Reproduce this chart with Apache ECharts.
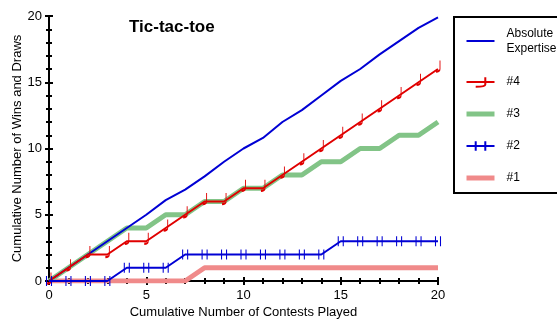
<!DOCTYPE html>
<html><head><meta charset="utf-8">
<script src="https://cdn.jsdelivr.net/npm/echarts@6/dist/echarts.min.js"></script>
<style>html,body{margin:0;padding:0;background:#fff}#c{width:557px;height:320px}</style>
</head><body><div id="c"></div>
<script>
const contests = [0,1,2,3,4,5,6,7,8,9,10,11,12,13,14,15,16,17,18,19,20];
const absoluteExpertise = [0,1,2,3,4,5,6.1,6.9,7.9,9,10,10.8,12,12.9,14,15.1,16,17.1,18.1,19.1,19.9];
const player4 = [0,1,2,2,3,3,4,5,6,6,7,7,8,9,10,11,12,13,14,15,16];
const player3 = [0,1,2,3,4,4,5,5,6,6,7,7,8,8,9,9,10,10,11,11,12];
const player2 = [0,0,0,0,1,1,1,2,2,2,2,2,2,2,2,3,3,3,3,3,3];
const player1 = [0,0,0,0,0,0,0,0,1,1,1,1,1,1,1,1,1,1,1,1,1];
const yTicks = [0,5,10,15,20];
const xTicks = [0,5,10,15,20];
const seriesNames = ['Absolute\nExpertise','#4','#3','#2','#1'];

const pair = (ys) => contests.map((x,i)=>[x, ys[i]]);
const font = 'Liberation Sans, Arial, sans-serif';
const chart = echarts.init(document.getElementById('c'), null, {renderer:'canvas'});

const axisCommon = (isX, ticks) => ({
  type:'value', min:0, max:20, interval:5,
  axisLine:{show:true, onZero:false, lineStyle:{color:'#000', width:2}},
  axisTick:{show:true, length:4, inside:false, lineStyle:{color:'#000', width:2}},
  minorTick:{show:true, splitNumber:5, length:3, lineStyle:{color:'#000', width:2}},
  splitLine:{show:false},
  axisLabel:{show:true, color:'#000', fontFamily:font, fontSize:13, margin:isX?8:7,
    formatter:(v)=> ticks.includes(v) ? String(v) : ''}
});
const axisInner = (pos) => ({
  type:'value', min:0, max:20, interval:5, position:pos, offset:0,
  axisLine:{show:false, onZero:false},
  axisTick:{show:true, length:4, inside:true, lineStyle:{color:'#000', width:2}},
  minorTick:{show:true, splitNumber:5, length:3, lineStyle:{color:'#000', width:2}},
  splitLine:{show:false}, axisLabel:{show:false}
});

const jPath = 'path://M4,0 L4,10 Q4,13 0,13';
const hPath = 'path://M0,0 L0,10 M5,0 L5,10';
const hidden = 'rgba(0,0,0,0)';

chart.setOption({
  animation:false,
  backgroundColor:'#fff',
  title:{text:'Tic-tac-toe', left:124, top:14,
    textStyle:{fontFamily:font, fontSize:17, fontWeight:'bold', color:'#000'}},
  grid:{left:49, right:119, top:16, bottom:39, containLabel:false, outerBoundsMode:'none'},
  xAxis:[Object.assign(axisCommon(true, xTicks), {position:'bottom',
      name:'Cumulative Number of Contests Played', nameLocation:'middle', nameGap:25, nameMoveOverlap:false,
      nameTextStyle:{fontFamily:font, fontSize:13, color:'#000'}}),
    axisInner('bottom')],
  yAxis:[Object.assign(axisCommon(false, yTicks), {position:'left',
      name:'Cumulative Number of Wins and Draws', nameLocation:'middle', nameGap:25, nameMoveOverlap:false,
      nameTextStyle:{fontFamily:font, fontSize:13, color:'#000'}}),
    axisInner('left')],
  legend:{
    data:[{name:seriesNames[0], textStyle:{lineHeight:15, padding:[0,0,2,7]}},
          {name:seriesNames[1]},{name:seriesNames[2]},{name:seriesNames[3]},{name:seriesNames[4]}],
    orient:'vertical', left:454, top:17,
    borderColor:'#000', borderWidth:2, padding:[8,40,8,10],
    itemWidth:28, itemHeight:12, itemGap:18, backgroundColor:'#fff',
    lineStyle:{width:'inherit'},
    textStyle:{fontFamily:font, fontSize:12, color:'#000', lineHeight:14, padding:[0,0,0,7]}
  },
  series:[
    {name:'#1', type:'line', data:pair(player1), z:1, symbol:'circle', symbolSize:0, showSymbol:false,
      lineStyle:{color:'#f08a8a', width:5}, itemStyle:{color:hidden}},
    {name:'#3', type:'line', data:pair(player3), z:2, symbol:'circle', symbolSize:0, showSymbol:false,
      lineStyle:{color:'#82c487', width:5}, itemStyle:{color:hidden}},
    {name:'Absolute\nExpertise', type:'line', data:pair(absoluteExpertise), z:3, symbol:'circle', symbolSize:0, showSymbol:false,
      lineStyle:{color:'#0000d4', width:2}, itemStyle:{color:hidden}},
    {name:'#4', type:'line', data:pair(player4), z:4, symbol:jPath, symbolSize:[4,11], symbolOffset:[0,-3], showSymbol:true,
      lineStyle:{color:'#e00000', width:2},
      itemStyle:{color:hidden, borderColor:'#e00000', borderWidth:1.5}},
    {name:'#2', type:'line', data:pair(player2), z:5, symbol:hPath, symbolSize:[5,10], showSymbol:true,
      lineStyle:{color:'#0000d4', width:2},
      itemStyle:{color:hidden, borderColor:'#0000d4', borderWidth:1.5}}
  ]
});
</script></body></html>
